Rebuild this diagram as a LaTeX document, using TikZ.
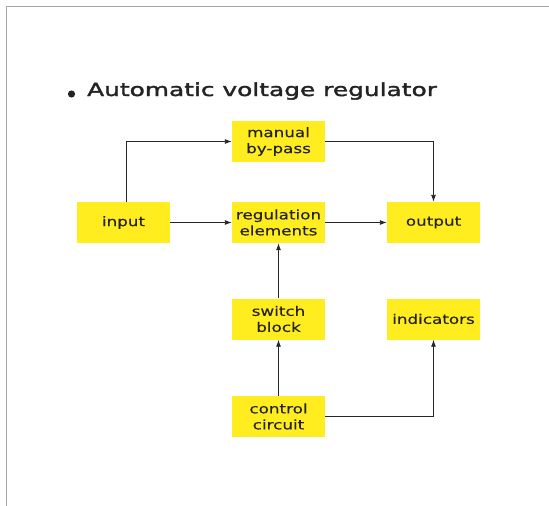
\documentclass[tikz,border=0pt]{standalone}
\usepackage{fontspec}
\setmainfont{DejaVu Sans}
\newfontfamily\boxfont[FakeStretch=1.29,FakeBold=0.2]{DejaVu Sans}
\newfontfamily\titlefont[FakeStretch=1.38,FakeBold=2]{DejaVu Sans}
\usetikzlibrary{arrows.meta}
\definecolor{boxyellow}{RGB}{255,237,32}
\definecolor{framegray}{RGB}{165,165,165}
\definecolor{txtdark}{RGB}{35,35,35}
\begin{document}
\begin{tikzpicture}[x=1pt,y=-1pt,
  blk/.style={rectangle, fill=boxyellow, minimum width=93pt, minimum height=41pt, inner sep=0pt,
    align=center, text=txtdark, font=\boxfont\fontsize{13}{16}\selectfont},
  conn/.style={draw=black!85, line width=0.9pt, -{Latex[length=7pt,width=5pt]}}]
\useasboundingbox (0,0) rectangle (549,506);
\draw[framegray, line width=1.5pt] (6.5,506) -- (6.5,6.5) -- (549,6.5);
\fill[txtdark] (71.5,94) circle (3.6pt);
\node[anchor=base west, inner sep=0pt, text=txtdark, font=\titlefont\fontsize{18}{20}\selectfont] (title) at (87,96) {Automatic voltage regulator};
\node[blk] (manual) at (278.5,141.5) {manual\\by-pass};
\node[blk] (reg) at (278.5,222.5) {regulation\\elements};
\node[blk] (input) at (123.5,222.5) {input};
\node[blk] (output) at (433.5,222.5) {output};
\node[blk] (switch) at (278.5,319) {switch\\block};
\node[blk] (ind) at (433.5,319) {indicators};
\node[blk] (control) at (278.5,416.5) {control\\circuit};
\draw[conn] ([xshift=2.5pt]input.north) |- (manual.west);
\draw[conn] (manual.east) -| (output.north);
\draw[conn] (input) -- (reg);
\draw[conn] (reg) -- (output);
\draw[conn] (switch) -- (reg);
\draw[conn] (control) -- (switch);
\draw[conn] (control.east) -| (ind.south);
\end{tikzpicture}
\end{document}
